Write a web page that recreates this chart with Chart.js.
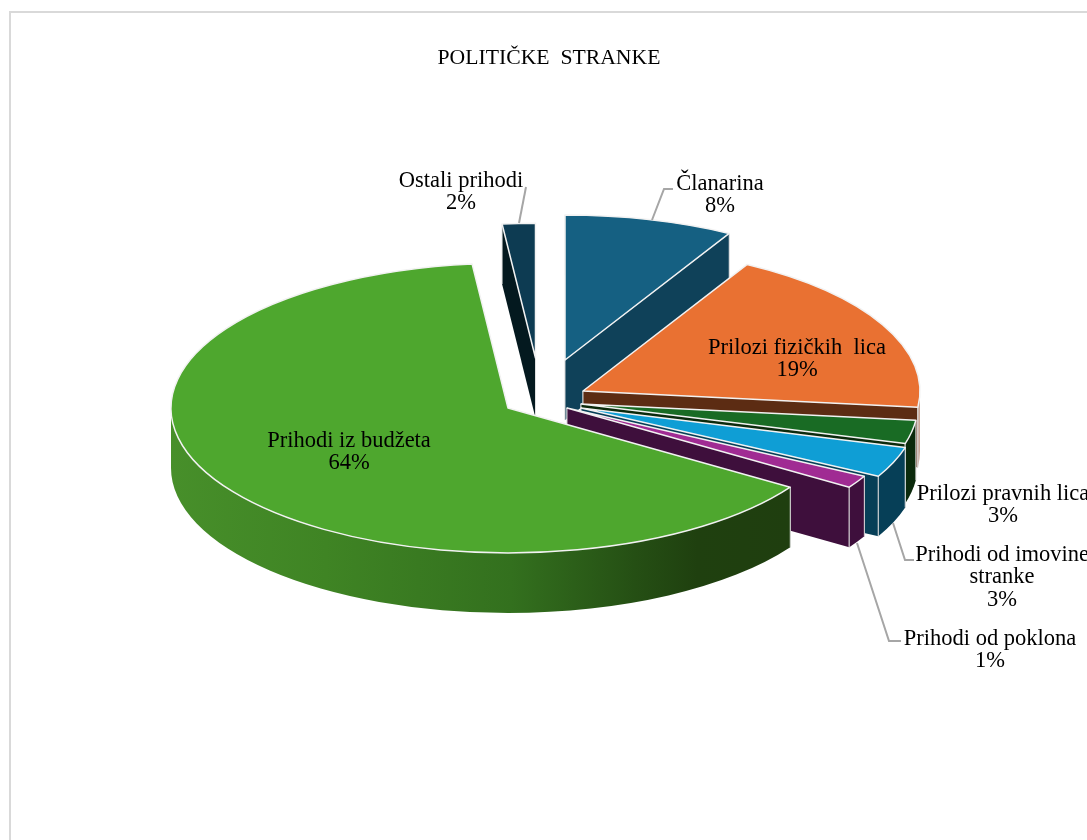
<!DOCTYPE html>
<html><head><meta charset="utf-8">
<style>html,body{margin:0;padding:0;background:#fff}canvas{display:block}</style>
<script src="https://cdn.jsdelivr.net/npm/chart.js@4"></script>
</head><body>
<canvas id="c" width="1087" height="840"></canvas>
<script>
// ---- data ----
const categories = ["Članarina","Prilozi fizičkih  lica","Prilozi pravnih lica","Prihodi od imovine stranke","Prihodi od poklona","Prihodi iz budžeta","Ostali prihodi"];
const shares = [8.1, 18.7, 2.6, 3.4, 1.4, 64.1, 1.7];
const chartTitle = "POLITIČKE  STRANKE";
// ---- styles ----
const topColors  = ["#156082","#E97132","#196B24","#0F9ED5","#A02B93","#4EA72E","#0D3B52"];
const wallColors = ["#0F4159","#5C2C13","#0B2A0C","#063F57","#3E0F3C","#2F6A1C","#04191F"];
const outerWallColors = ["#0F4159","#C9A898","#0B2A0C","#063F57","#3E0F3C",null,"#04191F"];
// per-slice explosion (screen px) and radius factor
const explodeX = [21, 39, 37, 37, 23, -36, -8.5];
const explodeY = [-39, -8, 5, 9, 9, 9, -41];
const radiusFactor = [1,1,1,1,1,1,0.93];
const drawOrder = [6,0,1,2,3,4,5];
const CX = 544, CY = 399, RADIUS = 337, TILT = 0.43, DEPTH = 60;
const greenStops = [[0,"#478F2A"],[0.25,"#3F8424"],[0.55,"#33701E"],[0.75,"#254F14"],[0.85,"#1F400F"],[1,"#1F3E0F"]];
// label layout
const labelLines = [["Članarina"],["Prilozi fizičkih  lica"],["Prilozi pravnih lica"],["Prihodi od imovine","stranke"],["Prihodi od poklona"],["Prihodi iz budžeta"],["Ostali prihodi"]];
const labelX = [720, 797, 1003, 1002, 990, 349, 461];
const labelY = [184, 348, 494, 555, 639, 441, 181];
const leaders = [[[652,220],[664,189],[673,189]],null,null,[[893,523],[905,560],[914,560]],[[857,543],[889,641],[901,641]],null,[[519,223],[526,187]]];

function pt(a, r, ax, ay){ return [ax + r*Math.cos(a), ay + r*TILT*Math.sin(a)]; }

const pie3d = {
  id:'pie3d',
  beforeDraw(chart){
    const c = chart.ctx; c.save();
    c.strokeStyle='#D9D9D9'; c.lineWidth=2;
    c.beginPath(); c.moveTo(10,840); c.lineTo(10,12); c.lineTo(1087,12); c.stroke();
    c.restore();
  },
  beforeDatasetDraw(chart){
    const c = chart.ctx, arcs = chart.getDatasetMeta(0).data;
    drawOrder.forEach(i=>{
      const arc = arcs[i];
      const {x,y,startAngle:a0,endAngle:a1,outerRadius} = arc.getProps(['x','y','startAngle','endAngle','outerRadius']);
      const k = radiusFactor[i], r = outerRadius*k;
      const ax = CX+explodeX[i], ay = CY+explodeY[i];
      const P0 = pt(a0,r,ax,ay), P1 = pt(a1,r,ax,ay);
      // radial walls
      c.save();
      c.lineJoin='round';
      [P0,P1].forEach(P=>{
        c.beginPath(); c.moveTo(ax,ay); c.lineTo(P[0],P[1]); c.lineTo(P[0],P[1]+DEPTH); c.lineTo(ax,ay+DEPTH); c.closePath();
        c.fillStyle = wallColors[i]; c.fill();
        c.strokeStyle='rgba(225,225,225,.9)'; c.lineWidth=1;
        c.beginPath(); c.moveTo(P[0],P[1]); c.lineTo(P[0],P[1]+DEPTH); c.stroke();
        c.beginPath(); c.moveTo(ax,ay); c.lineTo(ax,ay+DEPTH); c.stroke();
      });
      // visible front of the rim
      const two = Math.PI*2;
      for(let t=-2;t<=2;t++){
        const f0 = Math.max(a0, t*two), f1 = Math.min(a1, t*two+Math.PI);
        if(f1<=f0) continue;
        c.beginPath();
        c.ellipse(ax,ay,r,r*TILT,0,f0,f1);
        c.ellipse(ax,ay+DEPTH,r,r*TILT,0,f1,f0,true);
        c.closePath();
        if(outerWallColors[i]) c.fillStyle = outerWallColors[i];
        else {
          const g = c.createLinearGradient(ax-r,0,pt(a0,r,ax,ay)[0],0);
          greenStops.forEach(s=>g.addColorStop(s[0],s[1]));
          c.fillStyle=g;
        }
        c.fill();
        c.strokeStyle='rgba(225,225,225,.9)'; c.lineWidth=1;
        const E0=pt(f0,r,ax,ay), E1=pt(f1,r,ax,ay);
        if(f0===a0){c.beginPath();c.moveTo(E0[0],E0[1]);c.lineTo(E0[0],E0[1]+DEPTH);c.stroke();}
        if(f1===a1){c.beginPath();c.moveTo(E1[0],E1[1]);c.lineTo(E1[0],E1[1]+DEPTH);c.stroke();}
      }
      c.restore();
      // top face: library arc, tilted
      c.save();
      c.translate(ax,ay); c.scale(k,k*TILT); c.translate(-x,-y);
      arc.draw(c);
      c.restore();
      // white outline of the top face
      c.save();
      c.beginPath(); c.moveTo(ax,ay); c.ellipse(ax,ay,r,r*TILT,0,a0,a1); c.closePath();
      c.strokeStyle='#F2F2F2'; c.lineWidth=1.5; c.lineJoin='round'; c.stroke();
      c.restore();
    });
    return false;
  },
  afterDraw(chart){
    const c = chart.ctx; c.save();
    c.strokeStyle='#A6A6A6'; c.lineWidth=2;
    leaders.forEach(l=>{ if(!l) return; c.beginPath(); l.forEach((p,j)=> j?c.lineTo(p[0],p[1]):c.moveTo(p[0],p[1])); c.stroke(); });
    c.fillStyle='#000'; c.font='22.5px "Liberation Serif"'; c.textAlign='center'; c.textBaseline='middle';
    labelLines.forEach((lines,i)=>{
      const all = lines.concat([Math.round(shares[i])+'%']);
      all.forEach((t,j)=> c.fillText(t,labelX[i],labelY[i]+j*22.5));
    });
    c.restore();
  }
};

new Chart(document.getElementById('c'),{
  type:'pie',
  data:{labels:categories,datasets:[{data:shares,backgroundColor:topColors,borderWidth:0}]},
  options:{
    responsive:false,animation:false,radius:RADIUS,rotation:0,
    layout:{padding:{left:11}},
    plugins:{
      legend:{display:false},tooltip:{enabled:false},
      title:{display:true,text:chartTitle,color:'#000',font:{family:'"Liberation Serif"',size:21.7,weight:'normal'},padding:{top:45,bottom:0}}
    }
  },
  plugins:[pie3d]
});
</script>
</body></html>
